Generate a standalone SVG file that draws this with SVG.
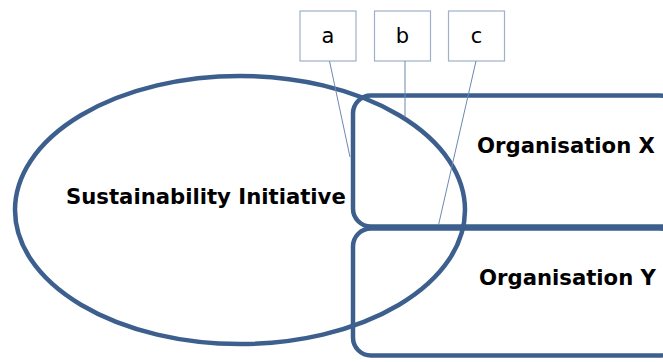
<svg xmlns="http://www.w3.org/2000/svg" width="663" height="362" viewBox="0 0 663 362">
<style>
.big{fill:none;stroke:#3c5f8d;stroke-width:4.5}
.lbl{fill:#fff;stroke:#9fb0c9;stroke-width:1.2}
.con{stroke:#6d89b0;stroke-width:1;fill:none}
.t{font-family:"DejaVu Sans",Verdana,sans-serif;font-weight:bold;font-size:21.2px;fill:#000}
.s{font-family:"DejaVu Sans",Verdana,sans-serif;font-size:21px;fill:#000;text-anchor:middle}
</style>
<rect width="663" height="362" fill="#fff"/>
<g id="org-x"><rect class="big" x="353" y="95.5" width="325" height="131" rx="18"/><text class="t" x="477" y="152.5">Organisation X</text></g>
<g id="org-y"><rect class="big" x="353" y="228.5" width="325" height="127" rx="18"/><text class="t" x="479" y="285">Organisation Y</text></g>
<g id="initiative"><ellipse class="big" cx="240" cy="210" rx="225" ry="134"/><text class="t" x="66" y="204">Sustainability Initiative</text></g>
<g id="label-a"><rect class="lbl" x="300" y="11" width="56" height="50"/><text class="s" x="328" y="43">a</text></g>
<g id="label-b"><rect class="lbl" x="374.5" y="11" width="56" height="50"/><text class="s" x="402.5" y="43">b</text></g>
<g id="label-c"><rect class="lbl" x="448.5" y="11" width="56" height="50"/><text class="s" x="476.5" y="43">c</text></g>
<g id="connectors">
<line class="con" x1="329.5" y1="61" x2="350" y2="157"/>
<line class="con" x1="405" y1="61" x2="405" y2="117"/>
<line class="con" x1="476" y1="61" x2="438.5" y2="225"/>
</g>
</svg>
